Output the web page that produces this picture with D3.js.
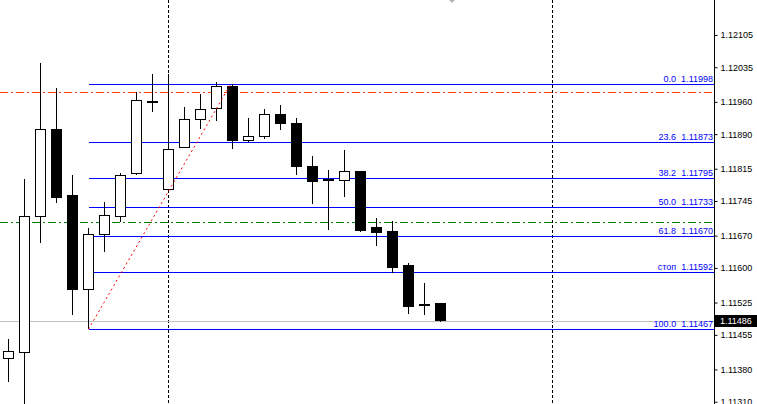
<!DOCTYPE html>
<html>
<head>
<meta charset="utf-8">
<script src="https://cdn.jsdelivr.net/npm/d3@7"></script>
<style>
  body { margin: 0; background: #fff; }
  svg { display: block; font-family: "Liberation Sans", Arial, sans-serif; }
</style>
</head>
<body>
<div id="chart"></div>
<script>
// EURUSD-style candles
const opens  = [1.11404, 1.11417, 1.11712, 1.11900, 1.11756, 1.11554, 1.11673, 1.11712, 1.11804, 1.11961, 1.11770, 1.11861, 1.11922, 1.11946,
                1.11994, 1.11876, 1.11885, 1.11933, 1.11913, 1.11820, 1.11792, 1.11790, 1.11810, 1.11687, 1.11678, 1.11606, 1.11521, 1.11522];
const highs  = [1.11446, 1.11793, 1.12044, 1.11989, 1.11801, 1.11686, 1.11742, 1.11806, 1.11981, 1.12020, 1.12020, 1.11948, 1.11976, 1.12002,
                1.11998, 1.11924, 1.11944, 1.11953, 1.11924, 1.11842, 1.11812, 1.11856, 1.11811, 1.11708, 1.11702, 1.11611, 1.11567, 1.11524];
const lows   = [1.11353, 1.11300, 1.11653, 1.11741, 1.11497, 1.11467, 1.11634, 1.11699, 1.11801, 1.11939, 1.11765, 1.11860, 1.11902, 1.11919,
                1.11858, 1.11874, 1.11880, 1.11900, 1.11802, 1.11739, 1.11682, 1.11754, 1.11678, 1.11648, 1.11588, 1.11501, 1.11499, 1.11483];
const closes = [1.11419, 1.11712, 1.11900, 1.11752, 1.11553, 1.11673, 1.11714, 1.11801, 1.11962, 1.11959, 1.11857, 1.11922, 1.11944, 1.11994,
                1.11876, 1.11885, 1.11933, 1.11913, 1.11819, 1.11787, 1.11790, 1.11809, 1.11682, 1.11676, 1.11601, 1.11516, 1.11519, 1.11486];

// Fibonacci retracement levels
const fibLevels = ["0.0", "23.6", "38.2", "50.0", "61.8", "стоп", "100.0"];
const fibPrices = [1.11998, 1.11873, 1.11795, 1.11733, 1.11670, 1.11592, 1.11467];

// price axis labels
const priceTicks = [1.12105, 1.12035, 1.11960, 1.11890, 1.11815, 1.11745, 1.11670, 1.11600, 1.11525, 1.11455, 1.11380, 1.11310];

// other horizontal lines
const orangeLevel = 1.11981;
const greenLevel = 1.11699;
const lastPrice = 1.11486;

// vertical separators (bar index)
const vLineBars = [10, 34];

// fib anchor bars (low bar, high bar)
const fibFrom = 5;
const fibTo = 14;

// Setup
const width = 757;
const height = 404;
const axisX = 714;

const svg = d3.select("#chart")
  .append("svg")
    .attr("width", width)
    .attr("height", height);

svg.append("rect")
    .attr("width", width)
    .attr("height", height)
    .attr("fill", "#fff");

const x = d3.scaleLinear()
    .domain([0, 1])
    .range([8.5, 24.5]);

const y = d3.scaleLinear()
    .domain([1.11998, 1.11467])
    .range([84.3, 329.3]);

const candles = opens.map((o, i) => ({
  i: i, open: o, high: highs[i], low: lows[i], close: closes[i]
}));

// vertical dotted separators
svg.selectAll(".vline")
  .data(vLineBars)
  .enter().append("line")
    .attr("class", "vline")
    .attr("x1", d => Math.floor(x(d)) + 0.5)
    .attr("x2", d => Math.floor(x(d)) + 0.5)
    .attr("y1", 0)
    .attr("y2", height)
    .attr("stroke", "#000")
    .attr("stroke-dasharray", "3,2");

// horizontal lines (behind the candles)
const lines = svg.append("g").attr("shape-rendering", "crispEdges");

lines.append("line")
    .attr("x1", 0).attr("x2", axisX)
    .attr("y1", Math.round(y(lastPrice)) + 0.5)
    .attr("y2", Math.round(y(lastPrice)) + 0.5)
    .attr("stroke", "#c0c0c0");

lines.append("line")
    .attr("x1", 0).attr("x2", axisX)
    .attr("y1", Math.round(y(orangeLevel)) + 0.5)
    .attr("y2", Math.round(y(orangeLevel)) + 0.5)
    .attr("stroke", "#ff4500")
    .attr("stroke-dasharray", "8,3,2,3");

lines.append("line")
    .attr("x1", 0).attr("x2", axisX)
    .attr("y1", Math.round(y(greenLevel)) + 0.5)
    .attr("y2", Math.round(y(greenLevel)) + 0.5)
    .attr("stroke", "#008000")
    .attr("stroke-dasharray", "8,3,2,3");

lines.selectAll(".fib")
  .data(fibPrices)
  .enter().append("line")
    .attr("class", "fib")
    .attr("x1", Math.round(x(fibFrom)) - 0.5)
    .attr("x2", axisX)
    .attr("y1", d => Math.round(y(d)) + 0.5)
    .attr("y2", d => Math.round(y(d)) + 0.5)
    .attr("stroke", "#0000ff");

// candles
const g = svg.append("g").attr("shape-rendering", "crispEdges");

g.selectAll(".wick")
  .data(candles)
  .enter().append("line")
    .attr("class", "wick")
    .attr("x1", d => x(d.i))
    .attr("x2", d => x(d.i))
    .attr("y1", d => y(d.high))
    .attr("y2", d => y(d.low))
    .attr("stroke", "#000");

g.selectAll(".body")
  .data(candles)
  .enter().append("rect")
    .attr("class", "body")
    .attr("x", d => x(d.i) - 5)
    .attr("width", 10)
    .attr("y", d => y(Math.max(d.open, d.close)))
    .attr("height", d => Math.max(1, y(Math.min(d.open, d.close)) - y(Math.max(d.open, d.close))))
    .attr("fill", d => d.close < d.open ? "#000" : "#fff")
    .attr("stroke", "#000");

// fib trend line
svg.append("line")
    .attr("x1", x(fibFrom))
    .attr("y1", y(fibPrices[6]))
    .attr("x2", x(fibTo) - 2)
    .attr("y2", y(fibPrices[0]))
    .attr("stroke", "#ff0000")
    .attr("stroke-dasharray", "2,3");

// fib labels
svg.selectAll(".fibLabel")
  .data(fibPrices)
  .enter().append("text")
    .attr("class", "fibLabel")
    .attr("x", axisX - 1)
    .attr("y", d => Math.round(y(d)) - 2)
    .attr("text-anchor", "end")
    .attr("fill", "#0000ff")
    .style("font-size", "9px")
    .style("white-space", "pre")
    .text((d, i) => fibLevels[i] + "  " + d.toFixed(5));

// price axis
const axis = svg.append("g")
    .attr("transform", `translate(${axisX + 0.5},0)`)
    .call(d3.axisRight(y)
      .tickValues(priceTicks)
      .tickSize(3)
      .tickPadding(3)
      .tickFormat(d3.format(".5f")));

axis.select(".domain").remove();
axis.selectAll("line").attr("stroke", "#000");
axis.selectAll("text")
    .attr("fill", "#000")
    .style("font-size", "9px")
    .style("font-family", "'Liberation Sans', Arial, sans-serif");

svg.append("line")
    .attr("x1", axisX + 0.5).attr("x2", axisX + 0.5)
    .attr("y1", 0).attr("y2", height)
    .attr("stroke", "#000");

// last price box
const lp = y(lastPrice);
svg.append("rect")
    .attr("x", axisX + 1)
    .attr("y", Math.round(lp) - 6)
    .attr("width", width - axisX - 1)
    .attr("height", 12)
    .attr("fill", "#000");

svg.append("text")
    .attr("x", axisX + 6)
    .attr("y", Math.round(lp) + 3)
    .attr("fill", "#fff")
    .style("font-size", "9px")
    .text(lastPrice.toFixed(5));

// chart shift marker
svg.append("path")
    .attr("d", "M449,0 L455,0 L452,3 Z")
    .attr("fill", "#b4b4b4");
</script>
</body>
</html>
